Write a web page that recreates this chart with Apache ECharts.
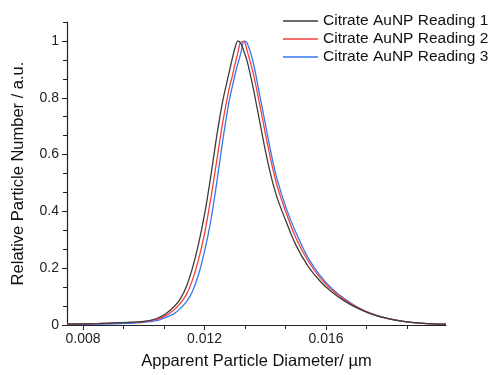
<!DOCTYPE html>
<html>
<head>
<meta charset="utf-8">
<script src="https://cdn.jsdelivr.net/npm/echarts@6/dist/echarts.min.js"></script>
<style>
html,body{margin:0;padding:0;background:#fff;}
#c{width:495px;height:375px;}
</style>
</head>
<body>
<div id="c"></div>
<script>
// Data
const diameters = [0.00747,0.0085,0.0095,0.0100,0.0104,0.0107,0.0110,0.0112,0.0114,0.0116,0.0118,0.0120,0.0122,0.0124,0.0126,0.0128,0.0129,0.0130,0.0131,0.0132,0.0133,0.0134,0.0136,0.0138,0.0140,0.0142,0.0144,0.0147,0.0150,0.0154,0.0158,0.0162,0.0166,0.0170,0.0175,0.0180,0.0186,0.0192,0.01995];
const reading1 = [0.003,0.005,0.009,0.013,0.022,0.038,0.065,0.092,0.135,0.20,0.285,0.39,0.52,0.665,0.79,0.885,0.932,0.975,1.0,0.99,0.962,0.93,0.835,0.725,0.615,0.52,0.445,0.36,0.283,0.208,0.155,0.115,0.085,0.061,0.038,0.023,0.012,0.006,0.003];
const reading2 = [0.004,0.006,0.009,0.012,0.019,0.032,0.054,0.076,0.107,0.158,0.23,0.322,0.442,0.578,0.715,0.828,0.871,0.917,0.96,0.997,0.997,0.966,0.887,0.785,0.675,0.572,0.486,0.391,0.308,0.227,0.167,0.123,0.09,0.063,0.039,0.023,0.012,0.006,0.003];
const reading3 = [0.001,0.003,0.006,0.009,0.015,0.026,0.04,0.058,0.081,0.118,0.177,0.26,0.364,0.50,0.65,0.784,0.833,0.88,0.921,0.96,1.0,0.993,0.925,0.818,0.709,0.60,0.509,0.408,0.327,0.238,0.175,0.128,0.093,0.065,0.04,0.024,0.012,0.006,0.003];
const seriesNames = ['Citrate AuNP Reading 1','Citrate AuNP Reading 2','Citrate AuNP Reading 3'];
const xLabels = [0.008,0.012,0.016];
const xMinorTicks = [0.0093333,0.0106667,0.0133333,0.0146667,0.0173333,0.0186667];
const yLabels = [0,0.2,0.4,0.6,0.8,1];
const yMinorTicks = [0.0666667,0.1333333,0.2666667,0.3333333,0.4666667,0.5333333,0.6666667,0.7333333,0.8666667,0.9333333,1.0666667];

const colors = ['#3c3c3c','#f2403c','#3477ee'];
const xMin = 0.00747, xMax = 0.01995, yMin = 0, yMax = 1.0666667;
const axisCol = '#222';
const font = 'Liberation Sans, Arial, sans-serif';

const chart = echarts.init(document.getElementById('c'), null, {renderer:'canvas'});
const mk = (ys) => diameters.map((x,i)=>[x, ys[i]]);
chart.setOption({
  animation:false,
  backgroundColor:'#fff',
  grid:{left:67, right:49, top:22, bottom:48},
  legend:{
    orient:'vertical', left:278, top:8, itemWidth:35, itemHeight:14, itemGap:2,
    textStyle:{fontFamily:font, fontSize:15.5, color:'#111'},
    data: seriesNames.map(n=>({name:n, icon:'path://M0,0L35,0L35,1.3L0,1.3Z'}))
  },
  xAxis:[{
    type:'value', min:xMin, max:xMax,
    name:'Apparent Particle Diameter/ µm', nameLocation:'middle', nameGap:28,
    nameTextStyle:{fontFamily:font, fontSize:16.5, color:'#111'},
    axisLine:{onZero:false, lineStyle:{color:axisCol, width:1.2}},
    axisTick:{show:true, customValues:xLabels, length:5, lineStyle:{color:axisCol}},
    axisLabel:{customValues:xLabels, fontFamily:font, fontSize:14, color:'#222', margin:7, formatter:v=>String(+v.toFixed(3))},
    splitLine:{show:false}
  },{
    type:'value', min:xMin, max:xMax, position:'bottom',
    axisLine:{show:false},
    axisTick:{show:true, customValues:xMinorTicks, length:4, lineStyle:{color:axisCol}},
    axisLabel:{show:false}, splitLine:{show:false}
  }],
  yAxis:[{
    type:'value', min:yMin, max:yMax,
    name:'Relative Particle Number / a.u.', nameLocation:'middle', nameGap:40,
    nameTextStyle:{fontFamily:font, fontSize:16.5, color:'#111'},
    axisLine:{show:true, onZero:false, lineStyle:{color:axisCol, width:1.2}},
    axisTick:{show:true, customValues:yLabels, length:5, lineStyle:{color:axisCol}},
    axisLabel:{customValues:yLabels, fontFamily:font, fontSize:14, color:'#222', margin:8, formatter:v=>String(+v.toFixed(1))},
    splitLine:{show:false}
  },{
    type:'value', min:yMin, max:yMax, position:'left',
    axisLine:{show:false},
    axisTick:{show:true, customValues:yMinorTicks, length:4, lineStyle:{color:axisCol}},
    axisLabel:{show:false}, splitLine:{show:false}
  }],
  series:[reading1,reading2,reading3].map((ys,i)=>({
    name:seriesNames[i], type:'line', data:mk(ys), smooth:0.3, symbol:'none',
    xAxisIndex:0, yAxisIndex:0,
    lineStyle:{color:colors[i], width:1.3}, itemStyle:{color:colors[i]}, z:3-i
  }))
});
</script>
</body>
</html>
